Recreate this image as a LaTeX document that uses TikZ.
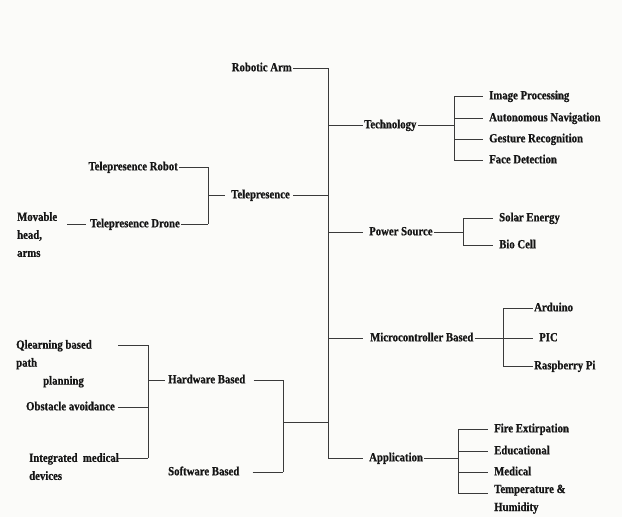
\documentclass[tikz,border=0pt]{standalone}
\usepackage{fontspec}
\setmainfont{Liberation Serif}[FakeStretch=0.86, BoldFeatures={FakeBold=0.8}]
\usepackage{tikz}
\usetikzlibrary{positioning}
\definecolor{paper}{HTML}{FBFBF9}
\definecolor{wire}{HTML}{3A3A3A}
\definecolor{ink}{HTML}{151515}
\newcommand{\lblfont}{\fontsize{12.5}{18}\selectfont\bfseries}

\begin{document}
\begin{tikzpicture}[x=1pt, y=-1pt,
    lbl/.style={font=\lblfont, text=ink, inner sep=1pt, text height=8.8pt, text depth=2.2pt},
    mlbl/.style={font=\lblfont, text=ink, inner sep=0pt, align=left, anchor=north west},
    link/.style={draw=wire, line width=0.9pt}
]
    \fill[paper] (0,0) rectangle (622,517);

    % main spine
    \coordinate (sp-top) at (328,68);
    \coordinate (sp-bot) at (328,458);
    \node[lbl, anchor=east] (arm) at (293,68) {Robotic Arm};
    \draw[link] (arm.east) -- (sp-top) -- (sp-bot);

    % technology
    \node[lbl, anchor=west] (tech) at (363,125) {Technology};
    \draw[link] (sp-top |- tech.west) -- (tech.west);
    \coordinate (tc-top) at (454,96);
    \coordinate (tc-bot) at (454,160);
    \draw[link] (tech.east) -- (tc-top |- tech.east);
    \draw[link] (tc-top) -- (tc-bot);
    \node[lbl, anchor=west] (img) at (488,96) {Image Processing};
    \node[lbl, anchor=west] (nav) at (488,118) {Autonomous Navigation};
    \node[lbl, anchor=west] (gest) at (488,139) {Gesture Recognition};
    \node[lbl, anchor=west] (face) at (488,160) {Face Detection};
    \foreach \n in {img,nav,gest,face}
        \draw[link, shorten >=5pt] (tc-top |- \n.west) -- (\n.west);

    % telepresence
    \node[lbl, anchor=east] (tele) at (291,195) {Telepresence};
    \draw[link, shorten <=2pt] (tele.east) -- (sp-top |- tele.east);
    \coordinate (tp-top) at (208,167);
    \coordinate (tp-bot) at (208,224);
    \draw[link] (tp-top) -- (tp-bot);
    \draw[link, shorten >=5pt] (tp-top |- tele.west) -- (tele.west);
    \node[lbl, anchor=east] (robot) at (179,167) {Telepresence Robot};
    \node[lbl, anchor=east] (drone) at (181,224) {Telepresence Drone};
    \draw[link] (robot.east) -- (tp-top);
    \draw[link] (drone.east) -- (tp-bot);
    \node[mlbl] (head) at (17,212) {Movable\\head,\\arms};
    \draw[link, shorten >=3pt] ([xshift=10pt]head.east |- drone.west) -- (drone.west);

    % power source
    \node[lbl, anchor=west] (power) at (368,232) {Power Source};
    \draw[link, shorten >=5pt] (sp-top |- power.west) -- (power.west);
    \coordinate (ps-top) at (463,218);
    \coordinate (ps-bot) at (463,245);
    \draw[link] (power.east) -- (ps-top |- power.east);
    \draw[link] (ps-top) -- (ps-bot);
    \node[lbl, anchor=west] (solar) at (498,218) {Solar Energy};
    \node[lbl, anchor=west] (bio) at (498,245) {Bio Cell};
    \foreach \n in {solar,bio}
        \draw[link, shorten >=5pt] (ps-top |- \n.west) -- (\n.west);

    % microcontroller
    \node[lbl, anchor=west] (micro) at (369,338) {Microcontroller Based};
    \draw[link, shorten >=6pt] (sp-top |- micro.west) -- (micro.west);
    \coordinate (mc-top) at (503,308);
    \coordinate (mc-bot) at (503,366);
    \draw[link] (mc-top) -- (mc-bot);
    \node[lbl, anchor=west] (ard) at (533,308) {Arduino};
    \node[lbl, anchor=west] (pic) at (538,338) {PIC};
    \node[lbl, anchor=west] (rasp) at (533,366) {Raspberry Pi};
    \draw[link, shorten >=5pt] (micro.east) -- (pic.west);
    \draw[link] (mc-top) -- (ard.west);
    \draw[link] (mc-bot) -- (rasp.west);

    % application
    \node[lbl, anchor=west] (app) at (368,458) {Application};
    \draw[link, shorten >=5pt] (sp-bot) -- (app.west);
    \coordinate (ap-top) at (458,429);
    \coordinate (ap-bot) at (458,493);
    \draw[link] (app.east) -- (ap-top |- app.east);
    \draw[link] (ap-top) -- (ap-bot);
    \node[lbl, anchor=west] (fire) at (493,429) {Fire Extirpation};
    \node[lbl, anchor=west] (edu) at (493,451) {Educational};
    \node[lbl, anchor=west] (med) at (493,472) {Medical};
    \foreach \n in {fire,edu,med}
        \draw[link, shorten >=5pt] (ap-top |- \n.west) -- (\n.west);
    \node[mlbl] (temp) at (494,484.5) {Temperature \&\\Humidity};
    \draw[link] (ap-bot) -- ++(30,0);

    % hardware / software
    \coordinate (hs-top) at (283,380);
    \coordinate (hs-bot) at (283,472);
    \coordinate (hs-mid) at (283,422);
    \draw[link] (hs-top) -- (hs-bot);
    \draw[link] (hs-mid) -- (sp-top |- hs-mid);
    \node[lbl, anchor=west] (hw) at (167,380) {Hardware Based};
    \node[lbl, anchor=west] (sw) at (167,472) {Software Based};
    \draw[link, shorten <=7pt] (hw.east) -- (hs-top);
    \draw[link, shorten <=12pt] (sw.east) -- (hs-bot);

    % hardware items
    \coordinate (hb-top) at (148,345);
    \coordinate (hb-bot) at (148,458);
    \draw[link] (hb-top) -- (hb-bot);
    \draw[link, shorten >=2pt] (hb-top |- hw.west) -- (hw.west);
    \node[mlbl] (qlearn) at (16,339.8) {Qlearning based\\path\\\hspace*{27pt}planning};
    \node[lbl, anchor=east] (obst) at (116,407) {Obstacle avoidance};
    \node[mlbl] (integ) at (29,453) {Integrated~ medical\\devices};
    \draw[link] (hb-top) -- ++(-30,0);
    \draw[link, shorten <=2pt] (obst.east) -- (hb-top |- obst.east);
    \draw[link] (hb-bot) -- ++(-30,0);
\end{tikzpicture}
\end{document}
